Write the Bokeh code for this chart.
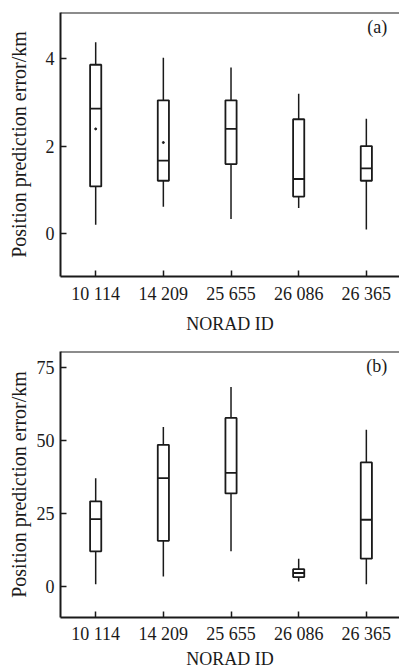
from bokeh.plotting import figure
from bokeh.layouts import column
from bokeh.models import FixedTicker, Span, Label, Range1d
from bokeh.embed import file_html
from bokeh.resources import INLINE

# ---- data ----
norad_ids = ["10 114", "14 209", "25 655", "26 086", "26 365"]
positions = [1, 2, 3, 4, 5]

# panel (a)
a_whisker_low = [0.21, 0.62, 0.34, 0.59, 0.10]
a_q1 = [1.08, 1.21, 1.59, 0.85, 1.21]
a_median = [2.85, 1.67, 2.39, 1.25, 1.49]
a_q3 = [3.85, 3.04, 3.04, 2.61, 2.00]
a_whisker_high = [4.36, 4.01, 3.79, 3.19, 2.62]
a_mean_pos = [1, 2]
a_mean = [2.39, 2.08]
a_ticks = [0, 2, 4]

# panel (b)
b_whisker_low = [0.8, 3.4, 12.0, 1.7, 0.8]
b_q1 = [12.0, 15.6, 31.8, 3.2, 9.5]
b_median = [23.0, 37.0, 38.8, 4.6, 22.8]
b_q3 = [29.1, 48.4, 57.6, 5.9, 42.4]
b_whisker_high = [37.0, 54.5, 68.2, 9.5, 53.6]
b_ticks = [0, 25, 50, 75]

FONT = "Liberation Serif"
INK = "#1a1a1a"
BOX_W = 0.165


def make_panel(wl, q1, med, q3, wh, ticks, yr, tag, tag_y, top_border, bottom_border,
               frame_h, ylabel_standoff, xlabel_standoff, xtick_standoff, means=None):
    p = figure(frame_width=339, frame_height=frame_h,
               x_range=Range1d(0.48, 5.49), y_range=Range1d(*yr),
               output_backend="svg", toolbar_location=None,
               min_border_left=60, min_border_right=0,
               min_border_top=top_border, min_border_bottom=bottom_border,
               background_fill_color="white", border_fill_color="white")
    p.outline_line_color = None
    p.grid.visible = False

    half = BOX_W / 2
    # whiskers
    p.segment(x0=positions, x1=positions, y0=q3, y1=wh, line_color=INK, line_width=1.5)
    p.segment(x0=positions, x1=positions, y0=wl, y1=q1, line_color=INK, line_width=1.5)
    # boxes
    p.vbar(x=positions, width=BOX_W, bottom=q1, top=q3, fill_color="white",
           line_color=INK, line_width=1.8)
    # medians
    p.segment(x0=[x - half for x in positions], x1=[x + half for x in positions],
              y0=med, y1=med, line_color=INK, line_width=1.8)
    if means is not None:
        p.scatter(x=means[0], y=means[1], size=2, color=INK)

    # top border
    p.add_layout(Span(location=yr[1], dimension="width", line_color=INK, line_width=2))

    # axes
    p.xaxis.ticker = FixedTicker(ticks=positions)
    p.xaxis.major_label_overrides = {k: v for k, v in zip(positions, norad_ids)}
    p.yaxis.ticker = FixedTicker(ticks=ticks)
    for ax in (p.xaxis, p.yaxis):
        ax.axis_line_color = INK
        ax.axis_line_width = 2
        ax.major_tick_line_color = INK
        ax.major_tick_line_width = 1.5
        ax.major_tick_in = 6
        ax.major_tick_out = 0
        ax.minor_tick_line_color = None
        ax.major_label_text_font = FONT
        ax.major_label_text_font_size = "18px"
        ax.major_label_text_color = INK
        ax.axis_label_text_font = FONT
        ax.axis_label_text_font_style = "normal"
        ax.axis_label_text_color = INK
    p.xaxis.axis_label = "NORAD ID"
    p.xaxis.axis_label_text_font_size = "18px"
    p.xaxis.major_label_standoff = xtick_standoff
    p.xaxis.axis_label_standoff = xlabel_standoff
    p.yaxis.axis_label = "Position prediction error/km"
    p.yaxis.axis_label_text_font_size = "20px"
    p.yaxis.major_label_standoff = 6
    p.yaxis.axis_label_standoff = ylabel_standoff

    p.add_layout(Label(x=5.31, y=tag_y, text=tag, text_align="right",
                       text_baseline="middle", text_font=FONT,
                       text_font_size="18px", text_color=INK))
    return p


pa = make_panel(a_whisker_low, a_q1, a_median, a_q3, a_whisker_high, a_ticks,
                (-0.97, 5.04), "(a)", 4.70, 12, 70, 264, 13, 7, 7,
                means=(a_mean_pos, a_mean))
pb = make_panel(b_whisker_low, b_q1, b_median, b_q3, b_whisker_high, b_ticks,
                (-10.6, 80.3), "(b)", 75.3, 5, 51, 266, 4, 2, 6)

layout = column(pa, pb, spacing=0)
open("out.html", "w").write(file_html(layout, INLINE))
